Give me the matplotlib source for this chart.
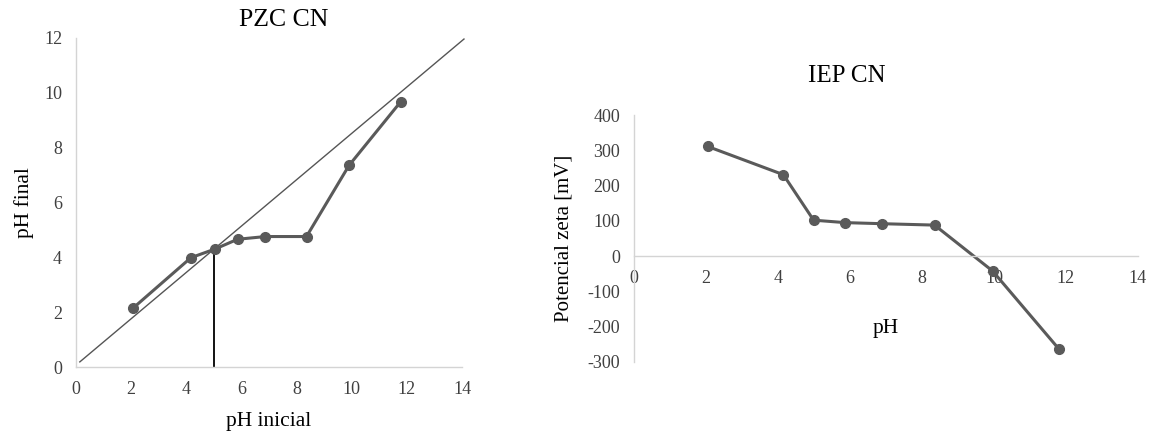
import matplotlib.pyplot as plt

# -------------------------------
# Data
# -------------------------------
ph_inicial = [2.07, 4.17, 5.03, 5.86, 6.87, 8.36, 9.90, 11.78]
ph_final = [2.15, 3.99, 4.30, 4.66, 4.76, 4.76, 7.35, 9.68]

# reference line and PZC marker on the left chart
ref_x = [0.14, 14.07]
ref_y = [0.19, 11.96]
pzc_x = [5.0, 5.0]
pzc_y = [0.0, 4.30]

ph_zeta = [2.05, 4.15, 4.99, 5.87, 6.88, 8.35, 9.96, 11.80]
zeta_mv = [311, 231, 102, 95, 92, 88, -42, -263]

x_ticks = [0, 2, 4, 6, 8, 10, 12, 14]
y_ticks_left = [0, 2, 4, 6, 8, 10, 12]
y_ticks_right = [-300, -200, -100, 0, 100, 200, 300, 400]

# -------------------------------
# Style
# -------------------------------
plt.rcParams['font.family'] = ['Liberation Serif', 'DejaVu Serif']
plt.rcParams['axes.unicode_minus'] = False
line_col = '#5a5a5a'
spine_col = '#d4d4d4'
tick_col = '#404040'

fig = plt.figure(figsize=(11.56, 4.36), dpi=100)

# -------------------------------
# Left chart: PZC CN
# -------------------------------
ax1 = fig.add_axes([0.0657, 0.158, 0.334, 0.755])
ax1.plot(ref_x, ref_y, color='#555555', lw=1.0, clip_on=False)
ax1.plot(pzc_x, pzc_y, color='black', lw=1.3)
ax1.plot(ph_inicial, ph_final, color=line_col, lw=2.2, marker='o', ms=7)
ax1.set_xlim(0, 14)
ax1.set_ylim(0, 12)
ax1.set_xticks(x_ticks)
ax1.set_yticks(y_ticks_left)
ax1.set_xlabel('pH inicial', fontsize=15.5, labelpad=10)
ax1.set_ylabel('pH final', fontsize=15.5, labelpad=7)
fig.text(0.2457, 0.954, 'PZC CN', fontsize=18.5, ha='center', va='center')

# -------------------------------
# Right chart: IEP CN
# -------------------------------
ax2 = fig.add_axes([0.5484, 0.170, 0.436, 0.566])
ax2.plot(ph_zeta, zeta_mv, color=line_col, lw=2.2, marker='o', ms=7, clip_on=False)
ax2.set_xlim(0, 14)
ax2.set_ylim(-300, 400)
ax2.set_xticks(x_ticks)
ax2.set_yticks(y_ticks_right)
ax2.spines['bottom'].set_position(('data', 0))
ax2.set_ylabel('Potencial zeta [mV]', fontsize=15, labelpad=10)
ax2.text(7.0, -205, 'pH', fontsize=15.5, ha='center', va='center')
fig.text(0.7327, 0.826, 'IEP CN', fontsize=18, ha='center', va='center')

for ax in (ax1, ax2):
    for s in ('top', 'right'):
        ax.spines[s].set_visible(False)
    for s in ('left', 'bottom'):
        ax.spines[s].set_color(spine_col)
        ax.spines[s].set_linewidth(1.0)
    ax.tick_params(length=0, labelsize=13, colors=tick_col, pad=10)

fig.savefig('out.png', dpi=100)
